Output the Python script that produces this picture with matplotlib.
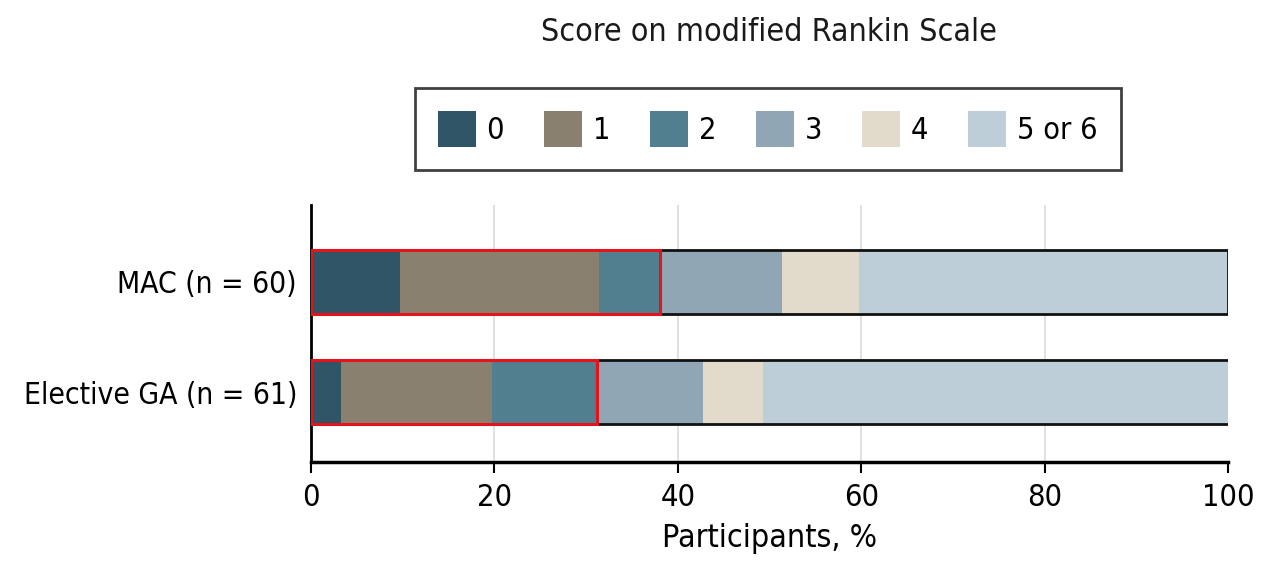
import matplotlib
matplotlib.use("Agg")
import matplotlib.pyplot as plt
from matplotlib.patches import Rectangle, Patch
import numpy as np

plt.rcParams['font.family'] = ['DejaVu Sans']
plt.rcParams['font.stretch'] = 'condensed'

groups = ["Elective GA (n = 61)", "MAC (n = 60)"]
categories = ["0", "1", "2", "3", "4", "5 or 6"]
# percentages per category: rows follow `groups`
values = {
    "Elective GA (n = 61)": [3.3, 16.4, 11.5, 11.5, 6.6, 50.8],
    "MAC (n = 60)": [9.7, 21.7, 6.7, 13.3, 8.3, 40.3],
}
highlight_upto = 3  # categories 0-2 outlined in red
colors = ["#2f5566", "#8a8070", "#527f90", "#90a6b4", "#e2dacb", "#bdced8"]

fig = plt.figure(figsize=(12.69, 5.72), dpi=100)
ax = fig.add_axes([0.245, 0.192, 0.968 - 0.245, 0.642 - 0.192])

ypos = np.arange(len(groups))
h = 0.58
for yi, g in zip(ypos, groups):
    left = 0.0
    for c, v, col in zip(categories, values[g], colors):
        ax.barh(yi, v, left=left, height=h, color=col, edgecolor='none', zorder=2)
        left += v
    ax.add_patch(Rectangle((0, yi - h / 2), left, h, fill=False, edgecolor='#111111',
                           lw=2, zorder=3))
    hl = sum(values[g][:highlight_upto])
    ax.add_patch(Rectangle((0, yi - h / 2), hl, h, fill=False, edgecolor='#e3141b',
                           lw=2.2, zorder=4))

ax.set_xlim(0, 100)
ax.set_ylim(-0.636, 1.70)
ax.set_xticks([0, 20, 40, 60, 80, 100])
ax.set_yticks(ypos)
ax.set_yticklabels(groups, fontsize=21.5)
ax.tick_params(axis='x', labelsize=22, length=8, width=1.5, direction='out', pad=7)
ax.tick_params(axis='y', length=0, pad=10)
for x in [20, 40, 60, 80]:
    ax.axvline(x, color='#dcdcdc', lw=1.2, zorder=1)
for s in ['top', 'right']:
    ax.spines[s].set_visible(False)
ax.spines['left'].set_linewidth(2)
ax.spines['bottom'].set_linewidth(2.5)
ax.set_xlabel("Participants, %", fontsize=23, labelpad=8)

handles = [Patch(facecolor=col, edgecolor='none', label=c) for c, col in zip(categories, colors)]
leg = fig.legend(handles=handles, loc='center', bbox_to_anchor=(0.605, 0.774), ncol=6,
                 fontsize=22, frameon=True, fancybox=False, edgecolor='#111111',
                 handlelength=1.25, handleheight=1.45, handletextpad=0.35, columnspacing=1.3,
                 borderpad=0.75, borderaxespad=0)
leg.get_frame().set_linewidth(2)

fig.text(0.606, 0.944, "Score on modified Rankin Scale", ha='center', va='center',
         fontsize=23, color='#1a1a1a')

fig.savefig("out.png", dpi=100)
